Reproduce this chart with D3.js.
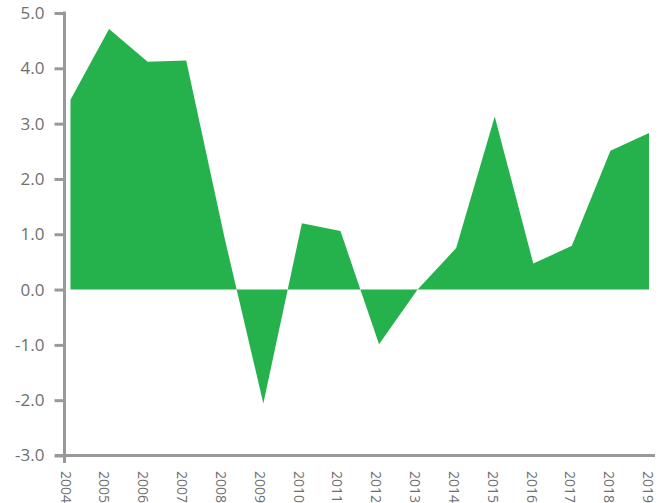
<!DOCTYPE html>
<html>
<head>
<meta charset="utf-8">
<script src="https://d3js.org/d3.v7.min.js"></script>
<style>
  body { margin: 0; background: #fff; }
  svg text { font-family: "Open Sans", "Noto Sans", sans-serif; fill: #6f6f6f; }
</style>
</head>
<body>
<script>
// values
var years = ["2004","2005","2006","2007","2008","2009","2010","2011","2012","2013","2014","2015","2016","2017","2018","2019"];
var values = [3.43, 4.71, 4.12, 4.14, 0.92, -2.06, 1.2, 1.06, -0.99, 0.0, 0.75, 3.13, 0.47, 0.79, 2.51, 2.83];
var yTicks = [-3, -2, -1, 0, 1, 2, 3, 4, 5];

var width = 670, height = 503;

var svg = d3.select("body").append("svg")
  .attr("width", width)
  .attr("height", height);

var x = d3.scalePoint().domain(years).range([70.5, 649]);
var xLabel = d3.scalePoint().domain(years).range([65.5, 648]);
var y = d3.scaleLinear().domain([-3, 5]).range([455.5, 13]);

var data = years.map(function(yr, i) { return {year: yr, v: values[i]}; });

// area from zero
var area = d3.area()
  .x(function(d) { return x(d.year); })
  .y0(y(0))
  .y1(function(d) { return y(d.v); });

svg.append("path")
  .datum(data)
  .attr("d", area)
  .attr("fill", "#25b24d");

// x axis line
svg.append("line")
  .attr("x1", 55).attr("x2", 655)
  .attr("y1", y(-3)).attr("y2", y(-3))
  .attr("stroke", "#999").attr("stroke-width", 3);

// y axis
var yAxis = d3.axisLeft(y)
  .tickValues(yTicks)
  .tickSize(10)
  .tickPadding(10)
  .tickFormat(function(d) { return d.toFixed(1); });

var gy = svg.append("g")
  .attr("transform", "translate(64.5,0)")
  .call(yAxis);
gy.select(".domain").remove();
gy.selectAll(".tick line").attr("stroke", "#999").attr("stroke-width", 3);
gy.selectAll(".tick text").style("font-size", "17px").attr("fill", "#6f6f6f");

svg.append("line")
  .attr("x1", 64.5).attr("x2", 64.5)
  .attr("y1", y(5) - 1.5).attr("y2", 463)
  .attr("stroke", "#999").attr("stroke-width", 3);

// rotated year labels
svg.selectAll(".xlab")
  .data(years)
  .enter()
  .append("text")
  .attr("class", "xlab")
  .attr("transform", function(d) { return "translate(" + xLabel(d) + ",471) rotate(90)"; })
  .attr("dy", "0.35em")
  .style("font-size", "14px")
  .text(function(d) { return d; });
</script>
</body>
</html>
